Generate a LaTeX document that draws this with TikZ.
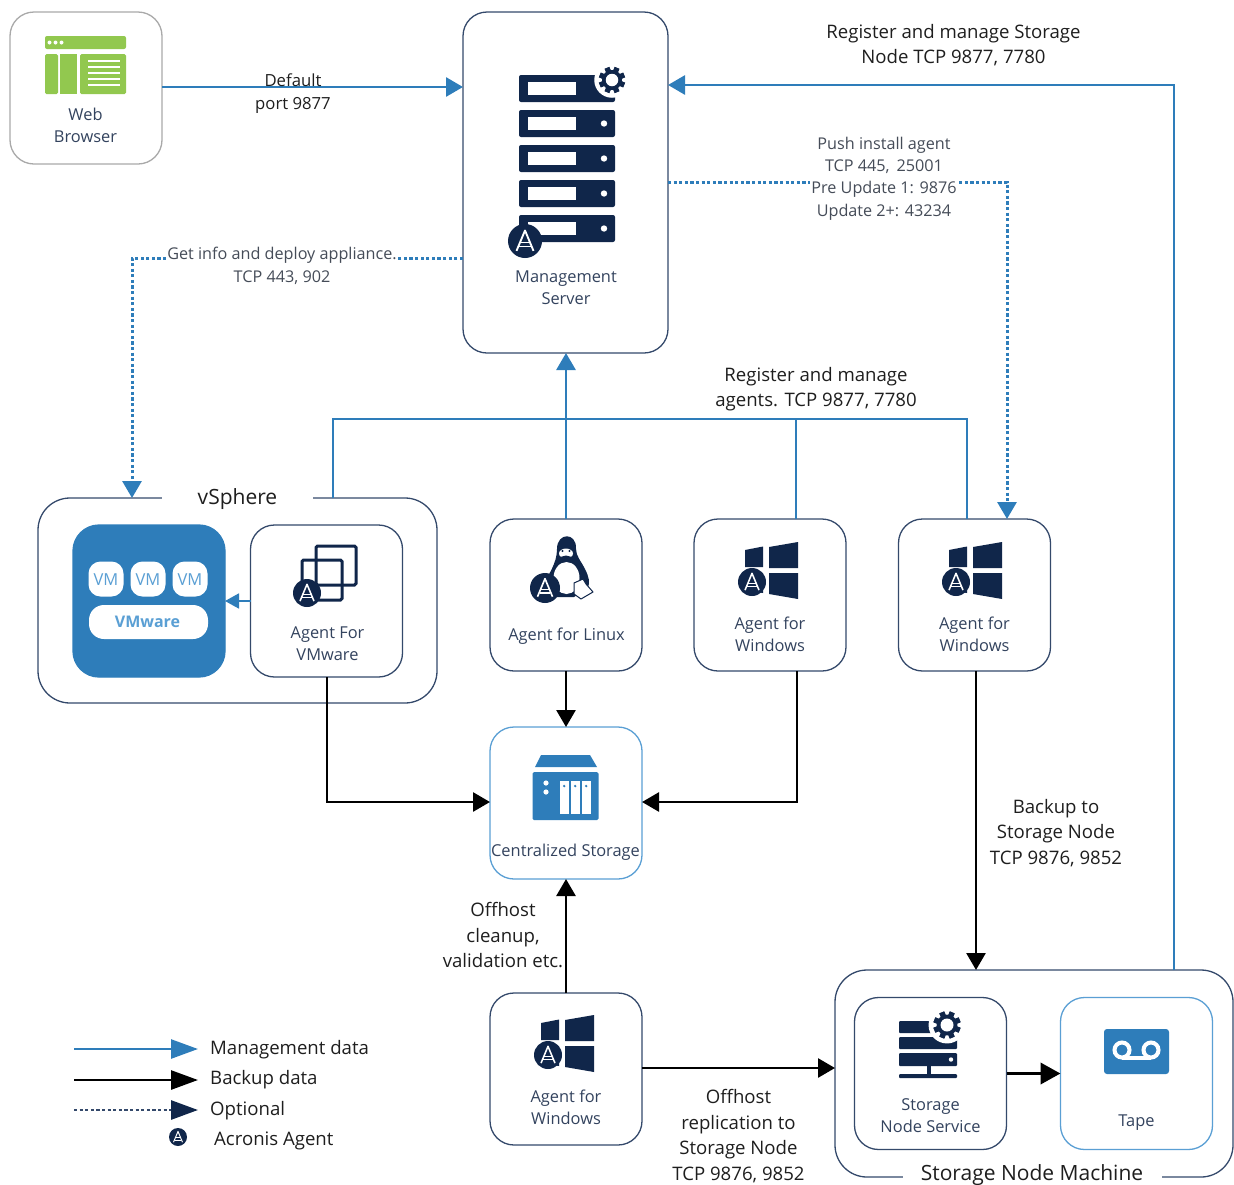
\documentclass[tikz,border=0pt]{standalone}
\usepackage{fontspec}
\setmainfont{Open Sans}
\usetikzlibrary{arrows.meta,calc}
\definecolor{navy}{HTML}{10264A}
\definecolor{boxline}{HTML}{34496B}
\definecolor{blueln}{HTML}{2E7DBA}
\definecolor{lightbl}{HTML}{5A9FD4}
\definecolor{greenic}{HTML}{92C84F}
\definecolor{labcol}{HTML}{33435E}
\definecolor{midcol}{HTML}{454C58}
\definecolor{txt}{HTML}{1E1E1E}
\definecolor{greybox}{HTML}{A9A9A9}
\newcommand\acrbadge[3]{%
  \begin{scope}[shift={(#1,#2)}]
    \fill[navy] (0,0) circle[radius=#3pt];
    \draw[white,line width=#3*0.11pt,line join=round] ($(-0.5*#3,0.58*#3)$) -- ($(0,-0.62*#3)$) -- ($(0.5*#3,0.58*#3)$);
    \draw[white,line width=#3*0.09pt] ($(-0.27*#3,0.08*#3)$) -- ($(0.27*#3,0.08*#3)$);
    \draw[white,line width=#3*0.09pt] ($(-0.36*#3,0.33*#3)$) -- ($(0.36*#3,0.33*#3)$);
  \end{scope}}
\newcommand\gearicon[3]{%
  \begin{scope}[shift={(#1,#2)}]
    \fill[white] (0,0) circle[radius=#3*1.42pt];
    \foreach \a in {0,45,...,315}{
      \fill[navy,rotate=\a+22.5] ($(-0.2*#3,-1.05*#3)$) rectangle ($(0.2*#3,1.05*#3)$);}
    \fill[navy] (0,0) circle[radius=#3*0.8pt];
    \fill[white] (0,0) circle[radius=#3*0.5pt];
  \end{scope}}
\newcommand\srvbar[1]{%
  \fill[navy,rounded corners=2pt] (519,#1) rectangle ++(96,27);
  \fill[white] (528,#1+7) rectangle ++(48,13);
  \fill[white] (604,#1+13.5) circle[radius=3.2pt];}
\newcommand\winicon[2]{%
  \begin{scope}[shift={(#1,#2)}]
    \fill[navy] (51,31) -- (69,27.5) -- (69,48) -- (51,48) -- cycle;
    \fill[navy] (75,28) -- (104,23) -- (104,49) -- (75,49) -- cycle;
    \fill[navy] (51,54) -- (69,54) -- (69,74) -- (51,71) -- cycle;
    \fill[navy] (75,54) -- (104,54) -- (104,80) -- (75,75) -- cycle;
    \acrbadge{58}{63}{14}
  \end{scope}}
\tikzset{
  x=1pt,y=-1pt,
  bx/.style={draw=boxline,line width=1.3pt,rounded corners=24pt,minimum width=152pt,minimum height=152pt,inner sep=0pt,outer sep=0pt,fill=white},
  graybox/.style={bx,draw=greybox},
  bluebox/.style={bx,draw=lightbl},
  boxlab/.style={align=center,text=labcol,inner sep=0pt,font=\fontsize{16.4}{22}\selectfont},
  outlab/.style={align=center,text=txt,inner sep=0pt,font=\fontsize{18.6}{25.5}\selectfont},
  midlab/.style={align=center,text=midcol,inner sep=1pt,font=\fontsize{16.2}{22.3}\selectfont},
  mgmtln/.style={draw=blueln,line width=2.8pt,-{Triangle[length=17pt,width=19pt,fill=blueln]}},
  mgmtnt/.style={draw=blueln,line width=2.8pt},
  optln/.style={draw=blueln,line width=3pt,dash pattern=on 3.2pt off 2.4pt,-{Triangle[length=17pt,width=19pt,fill=blueln]}},
  bkln/.style={draw=black,line width=2.7pt,-{Triangle[length=17pt,width=19pt,fill=black]}},
}
\begin{document}
\begin{tikzpicture}
\useasboundingbox (0,0) rectangle (1234,1184);

% containers
\node[bx,minimum width=399pt,minimum height=205pt,rounded corners=32pt] (vsph) at (237.5,600.5) {};
\node[bx,minimum width=398pt,minimum height=207pt,rounded corners=32pt] (snm) at (1034,1073.5) {};
\node[outlab,fill=white,minimum width=151pt,minimum height=12pt,font=\fontsize{21}{24}\selectfont] (vsphl) at (237.5,499) {vSphere};
\node[outlab,fill=white,minimum width=259pt,font=\fontsize{21}{24}\selectfont] (snml) at (1032,1175.5) {Storage Node Machine};

% boxes
\node[graybox] (brw) at (86,88) {};
\node[bx,minimum width=205pt,minimum height=341pt] (mgmt) at (565.5,182.5) {};
\node[bx,draw=blueln,fill=blueln,rounded corners=26pt] (vmw) at (149,601) {};
\node[bx] (agvm) at (326.5,601) {};
\node[bx] (aglx) at (566,595) {};
\node[bx] (agw1) at (770,595) {};
\node[bx] (agw2) at (974.5,595) {};
\node[bluebox] (cent) at (566,803) {};
\node[bx] (agw3) at (566,1069) {};
\node[bx] (sns) at (930.5,1073.5) {};
\node[bluebox] (tape) at (1136.5,1073.5) {};

% connectors: management
\coordinate (c0) at (300,87);
\draw[mgmtln] (brw.east |- c0) -- (mgmt.west |- c0);
\coordinate (regtop) at (1174,85);
\draw[mgmtln] (snm.north -| regtop) -- (regtop) -- (mgmt.east |- regtop);
\coordinate (busl) at (333,419);
\coordinate (busr) at (967,419);
\coordinate (busm) at (796,419);
\draw[mgmtnt] (vsph.north -| busl) -- (busl) -- (busr) -- (agw2.north -| busr);
\draw[mgmtnt] (agw1.north -| busm) -- (busm);
\draw[mgmtln] (aglx.north) -- (mgmt.south -| aglx.north);
\draw[draw=blueln,line width=1.8pt,-{Triangle[length=14pt,width=15pt,fill=blueln]}] (agvm.west) -- (vmw.east);
% connectors: optional
\coordinate (pushc) at (1007,182);
\draw[optln] (mgmt.east |- pushc) -- (pushc) -- (agw2.north -| pushc);
\coordinate (infoc) at (132,258);
\draw[optln] (mgmt.west |- infoc) -- (infoc) -- (vsph.north -| infoc);
% connectors: backup
\coordinate (c1) at (327,802);
\coordinate (c2) at (797,802);
\coordinate (c3) at (976,800);
\coordinate (c4) at (700,1068);
\draw[bkln] (agvm.south -| c1) -- (c1) -- (cent.west |- c1);
\draw[bkln] (aglx.south) -- (cent.north);
\draw[bkln] (agw1.south -| c2) -- (c2) -- (cent.east |- c2);
\draw[bkln] (agw2.south -| c3) -- (snm.north -| c3);
\draw[bkln] (agw3.north) -- (cent.south);
\draw[bkln] (agw3.east |- c4) -- (snm.west |- c4);
\draw[draw=black,line width=3.8pt,-{Triangle[length=20pt,width=21pt,fill=black]}] (sns.east) -- (tape.west);

% browser icon
\fill[greenic,rounded corners=2pt] (45,36) rectangle (126,49);
\foreach \xx in {49.5,55.5,61.5}{\fill[white] (\xx,42.5) circle[radius=2pt];}
\fill[greenic,rounded corners=1.5pt] (45,54) rectangle (58,94);
\fill[greenic] (60,54) rectangle (77,94);
\fill[greenic,rounded corners=1.5pt] (80,54) rectangle (126,94);
\foreach \yy in {60,66,72,78,84}{\fill[white] (88,\yy) rectangle (120,\yy+2.2);}

% management server icon
\srvbar{75}\srvbar{110}\srvbar{145}\srvbar{180}\srvbar{215}
\gearicon{612}{80}{12.5}
\acrbadge{525}{241}{17}

% vmware
\foreach \xx in {106,148,190}{
  \fill[white,rounded corners=12pt] (\xx-17.5,561.5) rectangle (\xx+17.5,596.5);
  \node[text=lightbl,inner sep=0pt,font=\fontsize{16.5}{18}\selectfont] at (\xx,579.5) {VM};}
\fill[white,rounded corners=15pt] (89,605) rectangle (208,639);
\node[text=lightbl,inner sep=0pt,font=\fontsize{16}{18}\selectfont\bfseries] at (147.5,622) {VMware};

% agent for vmware icon
\draw[navy,line width=3pt,rounded corners=1.5pt] (316,546) rectangle (356,585);
\draw[navy,line width=3pt,rounded corners=1.5pt] (302,560) rectangle (342,600);
\acrbadge{307}{593}{14}

% linux icon
\fill[navy] (557,549) .. controls (557,532) and (577,532) .. (576,549)
  .. controls (576,556) and (581,561) .. (585,569)
  .. controls (589,577) and (590,582) .. (588,588) -- (574,597) -- (552,597) -- (544,585)
  .. controls (548,574) and (557,564) .. (557,549) -- cycle;
\fill[white] (566.5,578) ellipse[x radius=13pt,y radius=16pt];
\fill[white] (566,553.5) ellipse[x radius=7pt,y radius=5pt];
\fill[navy] (562.5,551) circle[radius=1.2pt] (569.5,551) circle[radius=1.2pt];
\fill[navy] (560,557) -- (566,555.5) -- (572,557) -- (566,560) -- cycle;
\draw[navy,fill=white,line width=1pt,line join=round] (574,583) -- (583,579) -- (586,584) -- (593,592) -- (581,599) -- (574,594) -- cycle;
\acrbadge{545}{588}{15}

% windows icons
\winicon{694}{519}
\winicon{898}{519}
\winicon{490}{992}

% storage icon
\fill[blueln] (535,767) -- (541,755) -- (590,755) -- (597,767) -- cycle;
\fill[blueln,rounded corners=1.5pt] (532.5,772) rectangle (598.5,820);
\fill[white] (546,783) circle[radius=2.6pt] (546,792) circle[radius=2.6pt];
\foreach \xx in {560,571,582}{
  \fill[white] (\xx,781) rectangle (\xx+8.5,814);
  \fill[blueln] (\xx+4.2,786) circle[radius=1.3pt];}

% storage node icon
\fill[navy,rounded corners=1pt] (899,1021) rectangle (957,1033);
\fill[navy,rounded corners=1pt] (899,1037) rectangle (957,1049);
\fill[navy,rounded corners=1pt] (899,1053) rectangle (957,1066);
\fill[white] (951,1059.5) circle[radius=2.2pt];
\fill[navy] (926.5,1066) rectangle (930.5,1075);
\fill[navy,rounded corners=1pt] (899,1074) rectangle (957,1078);
\gearicon{947}{1025}{13}

% tape icon
\fill[blueln,rounded corners=3pt] (1104,1029) rectangle (1169,1074);
\draw[white,line width=4pt] (1122,1057.5) -- (1151,1057.5);
\draw[white,line width=4pt] (1122,1050) circle[radius=7.5pt];
\draw[white,line width=4pt] (1151,1050) circle[radius=7.5pt];

% box labels
\node[boxlab] (t1) at (85.5,125) {Web\\Browser};
\node[boxlab] (t2) at (566,288) {Management\\Server};
\node[boxlab] (t3) at (327.5,644) {Agent For\\VMware};
\node[boxlab] (t4) at (566.5,636.5) {Agent for Linux};
\node[boxlab] (t5) at (770,634.5) {Agent for\\Windows};
\node[boxlab] (t6) at (974.5,634.5) {Agent for\\Windows};
\node[boxlab] (t7) at (565.5,852) {Centralized Storage};
\node[boxlab] (t8) at (566,1107.5) {Agent for\\Windows};
\node[boxlab] (t9) at (930.5,1116) {Storage\\Node Service};
\node[boxlab] (t10) at (1136.5,1122.5) {Tape};

% connector labels
\node[outlab,font=\fontsize{16.7}{23}\selectfont] (l1) at (293,94) {Default\\port 9877};
\node[outlab] (l2) at (953.5,45) {Register and manage Storage\\Node TCP 9877, 7780};
\node[midlab,fill=white] (l3) at (884,178.5) {Push install agent\\TCP 445,\, 25001\\Pre Update 1: 9876\\Update 2+: 43234};
\node[midlab,fill=white] (l4a) at (282,255.5) {Get info and deploy appliance.};
\node[midlab] (l4b) at (282,277.5) {TCP 443, 902};
\node[outlab] (l5) at (816,389) {Register and manage\\agents. TCP 9877, 7780};
\node[outlab] (l6) at (1056,833) {Backup to\\Storage Node\\TCP 9876, 9852};
\node[outlab] (l7) at (503,935.5) {Offhost\\cleanup,\\validation etc.};
\node[outlab] (l8) at (738.5,1136) {Offhost\\replication to\\Storage Node\\TCP 9876, 9852};

% legend
\coordinate (lg1a) at (74,1049); \coordinate (lg1b) at (198,1049);
\coordinate (lg2a) at (74,1080); \coordinate (lg2b) at (198,1080);
\coordinate (lg3a) at (74,1110); \coordinate (lg3b) at (198,1110);
\draw[mgmtln,line width=2.6pt,-{Triangle[length=27pt,width=19pt,fill=blueln]}] (lg1a) -- (lg1b);
\draw[bkln,-{Triangle[length=27pt,width=19pt,fill=black]}] (lg2a) -- (lg2b);
\draw[draw=boxline,line width=2.8pt,dash pattern=on 3.2pt off 2.4pt,-{Triangle[length=27pt,width=19pt,fill=navy,color=navy]}] (lg3a) -- (lg3b);
\acrbadge{178}{1137}{9}
\node[outlab,anchor=west] (lg1) at (210,1050) {Management data};
\node[outlab,anchor=west] (lg2) at (210,1080) {Backup data};
\node[outlab,anchor=west] (lg3) at (210,1110.5) {Optional};
\node[outlab,anchor=west] (lg4) at (214,1140.5) {Acronis Agent};
\end{tikzpicture}
\end{document}
